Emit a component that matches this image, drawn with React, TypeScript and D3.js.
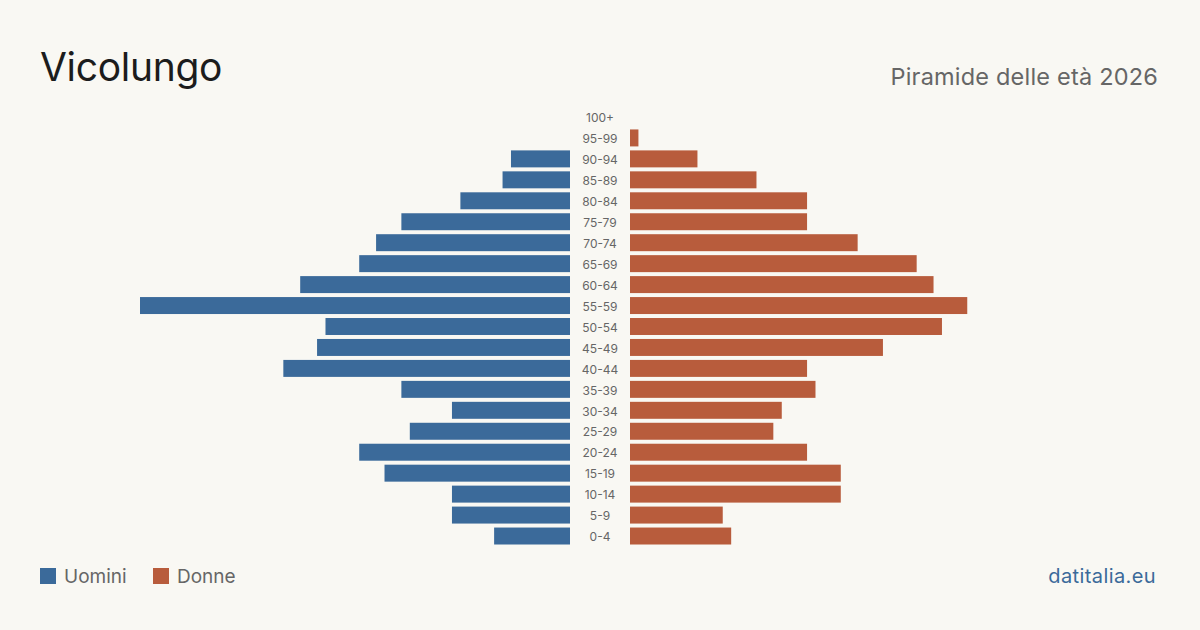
import { useEffect, useRef } from "react";
import * as d3 from "d3";

const W = 1200;
const H = 630;
const CENTER = 600;
const GAP = 30;
const HALF = 430;

const BG = "#f9f8f3";
const MALE = "#3b6a9a";
const FEMALE = "#b85c3c";
const MUTED = "#666666";

const ageGroups = [
  "100+", "95-99", "90-94", "85-89", "80-84", "75-79", "70-74",
  "65-69", "60-64", "55-59", "50-54", "45-49", "40-44", "35-39",
  "30-34", "25-29", "20-24", "15-19", "10-14", "5-9", "0-4",
];
const males = [0, 0, 7, 8, 13, 20, 23, 25, 32, 51, 29, 30, 34, 20, 14, 19, 25, 22, 14, 14, 9];
const females = [0, 1, 8, 15, 21, 21, 27, 34, 36, 40, 37, 30, 21, 22, 18, 17, 21, 25, 25, 11, 12];

const legendItems = [
  { label: "Uomini", color: MALE },
  { label: "Donne", color: FEMALE },
];

const FONT = "Inter, 'Noto Sans', sans-serif";

export default function App() {
  const svgRef = useRef<SVGSVGElement>(null);

  useEffect(() => {
    const svg = d3.select(svgRef.current);
    if (!svg.node()) return;
    svg.selectAll("*").remove();

    svg.append("rect").attr("width", W).attr("height", H).attr("fill", BG);

    const max = d3.max([...males, ...females]) ?? 1;
    const x = d3.scaleLinear().domain([0, max]).range([0, HALF]);
    const y = d3
      .scaleBand()
      .domain(ageGroups)
      .range([106.5, 546.5])
      .paddingInner(0.19)
      .paddingOuter(0.095);

    const rows = ageGroups.map((g, i) => ({ g, m: males[i], f: females[i] }));

    // left side: men, growing out from the centre gutter
    svg
      .append("g")
      .selectAll("rect")
      .data(rows.filter((d) => d.m > 0))
      .join("rect")
      .attr("x", (d) => CENTER - GAP - x(d.m))
      .attr("y", (d) => y(d.g)!)
      .attr("width", (d) => x(d.m))
      .attr("height", y.bandwidth())
      .attr("fill", MALE);

    // right side: women
    svg
      .append("g")
      .selectAll("rect")
      .data(rows.filter((d) => d.f > 0))
      .join("rect")
      .attr("x", CENTER + GAP)
      .attr("y", (d) => y(d.g)!)
      .attr("width", (d) => x(d.f))
      .attr("height", y.bandwidth())
      .attr("fill", FEMALE);

    svg
      .append("g")
      .selectAll("text")
      .data(ageGroups)
      .join("text")
      .attr("x", CENTER)
      .attr("y", (d) => y(d)! + y.bandwidth() / 2 + 1)
      .attr("dy", "0.35em")
      .attr("text-anchor", "middle")
      .attr("fill", MUTED)
      .style("font-family", FONT)
      .style("font-size", "12px")
      .text((d) => d);

    svg
      .append("text")
      .attr("x", 40)
      .attr("y", 81)
      .attr("fill", "#1c1c1c")
      .style("font-family", FONT)
      .style("font-size", "39px")
      .style("letter-spacing", "-0.3px")
      .text("Vicolungo");

    svg
      .append("text")
      .attr("x", 1158)
      .attr("y", 85)
      .attr("text-anchor", "end")
      .attr("fill", MUTED)
      .style("font-family", FONT)
      .style("font-size", "23.5px")
      .style("letter-spacing", "0.2px")
      .text("Piramide delle età 2026");

    const legend = svg.append("g");
    const offsets = [40, 153];
    legendItems.forEach((item, i) => {
      legend
        .append("rect")
        .attr("x", offsets[i])
        .attr("y", 568)
        .attr("width", 16)
        .attr("height", 16)
        .attr("fill", item.color);
      legend
        .append("text")
        .attr("x", offsets[i] + 24)
        .attr("y", 583)
        .attr("fill", MUTED)
        .style("font-family", FONT)
        .style("font-size", "19px")
        .text(item.label);
    });

    svg
      .append("text")
      .attr("x", 1156)
      .attr("y", 583)
      .attr("text-anchor", "end")
      .attr("fill", MALE)
      .style("font-family", FONT)
      .style("font-size", "20px")
      .style("letter-spacing", "0.4px")
      .text("datitalia.eu");
  }, []);

  return (
    <svg
      ref={svgRef}
      width={W}
      height={H}
      style={{ position: "absolute", left: 0, top: 0, display: "block" }}
    />
  );
}
